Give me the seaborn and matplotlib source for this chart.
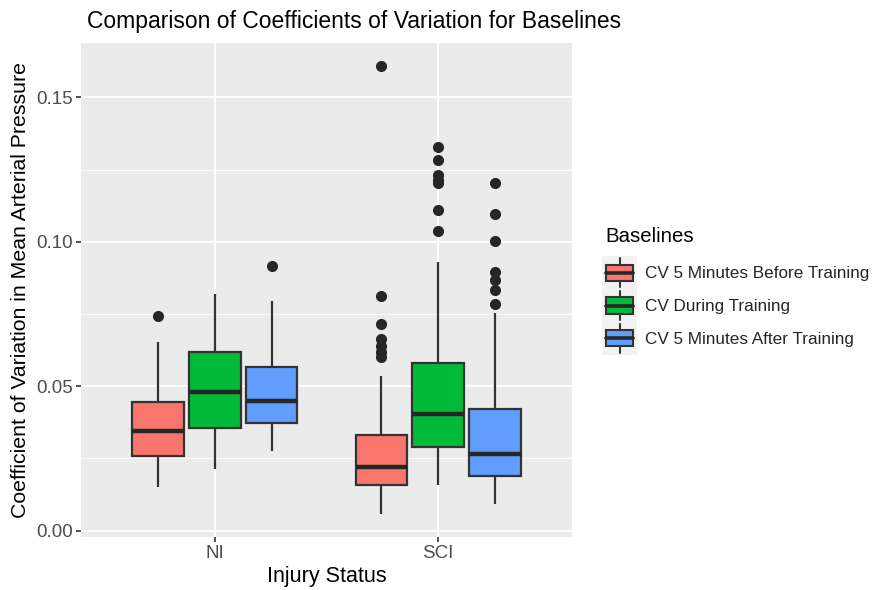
import numpy as np
import pandas as pd
import matplotlib
matplotlib.use("Agg")
import matplotlib.pyplot as plt
import seaborn as sns
from matplotlib.legend_handler import HandlerBase
from matplotlib.patches import Rectangle
from matplotlib.lines import Line2D

# ---- data ----
injury = ["NI", "SCI"]
baselines = ["CV 5 Minutes Before Training", "CV During Training", "CV 5 Minutes After Training"]
colors = ["#F8766D", "#00BA38", "#619CFF"]

# per injury group, per baseline
whisk_lo = [[0.0152, 0.0214, 0.0277], [0.0056, 0.0157, 0.0093]]
q1       = [[0.0259, 0.0355, 0.0372], [0.0159, 0.0289, 0.0190]]
median   = [[0.0345, 0.0481, 0.0450], [0.0220, 0.0403, 0.0266]]
q3       = [[0.0445, 0.0618, 0.0566], [0.0332, 0.0582, 0.0421]]
whisk_hi = [[0.0653, 0.0820, 0.0795], [0.0536, 0.0930, 0.0755]]
outliers = [
    [[0.0743], [], [0.0915]],
    [[0.0600, 0.0618, 0.0640, 0.0665, 0.0714, 0.0812, 0.1610],
     [0.1038, 0.1110, 0.1203, 0.1215, 0.1230, 0.1283, 0.1327],
     [0.0783, 0.0833, 0.0866, 0.0897, 0.1003, 0.1096, 0.1204]],
]

# build a long table whose box statistics reproduce the values above
rows = []
for gi, g in enumerate(injury):
    for bi, b in enumerate(baselines):
        vals = ([whisk_lo[gi][bi]] + [q1[gi][bi]] * 20 + [median[gi][bi]] * 20
                + [q3[gi][bi]] * 20 + [whisk_hi[gi][bi]] + outliers[gi][bi])
        for v in vals:
            rows.append({"Injury Status": g, "Baselines": b, "cv": v})
df = pd.DataFrame(rows)

# ---- style ----
sns.set_theme(style="darkgrid")
plt.rcParams["font.family"] = ["Liberation Sans", "DejaVu Sans"]

fig = plt.figure(figsize=(8.76, 5.90), dpi=100)
ax = fig.add_axes([81 / 876, 1 - 537 / 590, (572 - 81) / 876, (537 - 43) / 590])
ax.set_facecolor("#EBEBEB")

edge = "#333333"
sns.boxplot(
    data=df, x="Injury Status", y="cv", hue="Baselines",
    order=injury, hue_order=baselines, palette=colors, saturation=1,
    width=0.765, gap=0.1, whis=1.5, ax=ax, legend=False,
    linecolor=edge, linewidth=1.6, showcaps=False,
    flierprops=dict(marker="o", markersize=7, markerfacecolor="#262626",
                    markeredgecolor="#262626"),
    medianprops=dict(linewidth=3.2, color="#262626"),
    zorder=3,
)

ax.set_xlim(-0.6, 1.6)
ax.set_ylim(-0.0022, 0.1688)
ax.set_yticks([0.0, 0.05, 0.10, 0.15])
ax.set_yticklabels(["0.00", "0.05", "0.10", "0.15"])
ax.set_yticks([0.025, 0.075, 0.125], minor=True)
ax.grid(which="major", color="white", linewidth=1.4, zorder=0)
ax.grid(which="minor", axis="y", color="white", linewidth=0.7, alpha=0.8, zorder=0)
ax.grid(which="minor", axis="x", visible=False)
ax.set_axisbelow(True)
for s in ax.spines.values():
    s.set_visible(False)
ax.tick_params(axis="both", which="major", length=3.5, width=1.2, color="#333333",
               labelsize=13.5, labelcolor="#4D4D4D", pad=2, bottom=True, left=True)
ax.tick_params(axis="both", which="minor", length=0)

ax.set_xlabel("Injury Status", fontsize=15.5, color="black", labelpad=3)
ax.set_ylabel("Coefficient of Variation in Mean Arterial Pressure", fontsize=15.3,
              color="black", labelpad=5)
fig.text(87 / 876, 1 - 28 / 590, "Comparison of Coefficients of Variation for Baselines",
         fontsize=16.5, color="black", ha="left", va="baseline")


# ---- legend with boxplot glyphs ----
class BoxHandler(HandlerBase):
    def create_artists(self, legend, orig_handle, xdescent, ydescent, width, height,
                       fontsize, trans):
        fc = orig_handle.get_facecolor()
        bg = Rectangle((-xdescent, -ydescent), width, height, facecolor="#F2F2F2",
                       edgecolor="none", transform=trans)
        bw = width * 0.8
        bx = -xdescent + (width - bw) / 2
        by = -ydescent + height * 0.25
        bh = height * 0.5
        box = Rectangle((bx, by), bw, bh, facecolor=fc, edgecolor=edge, linewidth=1.5,
                        transform=trans)
        cx = -xdescent + width / 2
        w1 = Line2D([cx, cx], [-ydescent + height * 0.06, by], color=edge, linewidth=1.5,
                    transform=trans)
        w2 = Line2D([cx, cx], [by + bh, -ydescent + height * 0.94], color=edge,
                    linewidth=1.5, transform=trans)
        med = Line2D([bx, bx + bw], [by + bh / 2] * 2, color="#262626", linewidth=2.6,
                     transform=trans)
        return [bg, box, w1, w2, med]


fig.text(605 / 876, 1 - 242 / 590, "Baselines", fontsize=14.7, color="black",
         ha="left", va="baseline")
handles = [Rectangle((0, 0), 1, 1, facecolor=c) for c in colors]
leg = fig.legend(handles, baselines,
                 handler_map={Rectangle: BoxHandler()},
                 loc="upper left", bbox_to_anchor=(599 / 876, 1 - 253 / 590),
                 frameon=False, fontsize=12.3,
                 handlelength=2.0, handleheight=2.55, handletextpad=0.47,
                 labelspacing=0.02, borderpad=0.2, borderaxespad=0)

fig.savefig("out.png", dpi=100, facecolor="white")
